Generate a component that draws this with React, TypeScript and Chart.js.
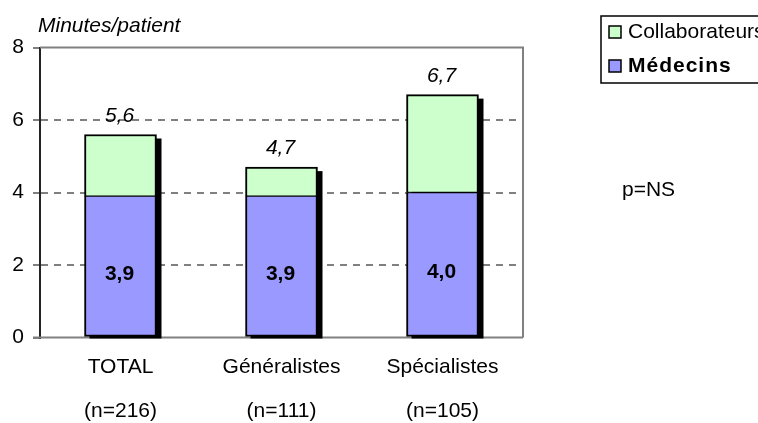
import React, { useEffect, useRef } from "react";
import { Chart, registerables } from "chart.js";

Chart.register(...registerables);

const categories = ["TOTAL", "Généralistes", "Spécialistes"];
const sampleSizes = ["(n=216)", "(n=111)", "(n=105)"];
const medecins = [3.9, 3.9, 4.0];
const collaborateurs = [1.7, 0.8, 2.7];
const totals = [5.6, 4.7, 6.7];
const yTicks = [0, 2, 4, 6, 8];
const axisTitle = "Minutes/patient";
const pValue = "p=NS";
const seriesNames = ["Médecins", "Collaborateurs"];

const FONT = "'Liberation Sans', Arial, sans-serif";
const FS = 21;
const fmt = (v: number) => v.toFixed(1).replace(".", ",");

export default function App() {
  const ref = useRef<HTMLCanvasElement | null>(null);

  useEffect(() => {
    const canvas = ref.current;
    if (!canvas) return;

    const decor = {
      id: "decor",
      beforeDatasetsDraw(chart: any) {
        const { ctx, chartArea } = chart;
        const { left, right, top, bottom } = chartArea;
        ctx.save();
        ctx.strokeStyle = "#808080";
        ctx.lineWidth = 2;
        ctx.beginPath();
        ctx.moveTo(left, top);
        ctx.lineTo(right, top);
        ctx.lineTo(right, bottom);
        ctx.stroke();
        ctx.beginPath();
        ctx.moveTo(left - 7, bottom);
        ctx.lineTo(right, bottom);
        ctx.stroke();
        const m0 = chart.getDatasetMeta(0);
        const m1 = chart.getDatasetMeta(1);
        ctx.fillStyle = "#000";
        m1.data.forEach((bar: any, i: number) => {
          const w = bar.width;
          const x0 = bar.x - w / 2 + 5;
          const y0 = bar.y + 4;
          const base = m0.data[i].base + 2;
          ctx.fillRect(x0, y0, w, base - y0);
        });
        ctx.restore();
      },
      afterDatasetsDraw(chart: any) {
        const { ctx } = chart;
        const m0 = chart.getDatasetMeta(0);
        const m1 = chart.getDatasetMeta(1);
        ctx.save();
        ctx.fillStyle = "#000";
        ctx.textAlign = "center";
        m1.data.forEach((bar: any, i: number) => {
          ctx.font = `italic ${FS}px ${FONT}`;
          ctx.textBaseline = "alphabetic";
          ctx.fillText(fmt(totals[i]), bar.x - 1, bar.y - 13);
          const b = m0.data[i];
          ctx.font = `bold ${FS}px ${FONT}`;
          ctx.textBaseline = "middle";
          ctx.fillText(fmt(medecins[i]), b.x - 1, (b.y + b.base) / 2 + 8);
        });
        ctx.restore();
      },
      afterDraw(chart: any) {
        const { ctx, chartArea } = chart;
        ctx.save();
        ctx.fillStyle = "#000";
        ctx.textAlign = "left";
        ctx.textBaseline = "alphabetic";
        ctx.font = `italic ${FS}px ${FONT}`;
        ctx.fillText(axisTitle, chartArea.left - 2, 32);

        ctx.strokeStyle = "#000";
        ctx.lineWidth = 1.5;
        ctx.strokeRect(601, 16, 180, 67);
        const items = [
          { name: seriesNames[1], color: "#CCFFCC", y: 32, bold: false },
          { name: seriesNames[0], color: "#9999FF", y: 66, bold: true },
        ];
        items.forEach((it) => {
          ctx.fillStyle = it.color;
          ctx.fillRect(609, it.y - 6, 12, 12);
          ctx.lineWidth = 1.5;
          ctx.strokeRect(609, it.y - 6, 12, 12);
          ctx.fillStyle = "#000";
          ctx.textBaseline = "middle";
          ctx.font = `${it.bold ? "bold " : ""}${FS}px ${FONT}`;
          (ctx as any).letterSpacing = it.bold ? "1px" : "0px";
          ctx.fillText(it.name, 628, it.y);
        });
        (ctx as any).letterSpacing = "0px";
        ctx.font = `${FS}px ${FONT}`;
        ctx.textBaseline = "middle";
        ctx.fillText(pValue, 622, 190);
        ctx.restore();
      },
    };

    const chart = new Chart(canvas, {
      type: "bar",
      data: {
        labels: categories.map((c, i) => [c, sampleSizes[i]]),
        datasets: [
          {
            label: seriesNames[0],
            data: medecins,
            backgroundColor: "#9999FF",
            borderColor: "#000",
            borderWidth: { top: 1, left: 2, right: 2, bottom: 2 },
            borderSkipped: false,
            barThickness: 72,
          },
          {
            label: seriesNames[1],
            data: collaborateurs,
            backgroundColor: "#CCFFCC",
            borderColor: "#000",
            borderWidth: { top: 2, left: 2, right: 2, bottom: 1 },
            borderSkipped: false,
            barThickness: 72,
          },
        ],
      },
      options: {
        animation: false,
        responsive: true,
        maintainAspectRatio: false,
        layout: { padding: { top: 47.5, right: 235, left: 0, bottom: 0 } },
        plugins: {
          legend: { display: false },
          tooltip: { enabled: false },
          title: { display: false },
        },
        scales: {
          x: {
            stacked: true,
            grid: { display: false },
            border: { display: false },
            ticks: {
              color: "#000",
              font: { family: FONT, size: FS, lineHeight: 44 / FS },
              padding: 0,
              maxRotation: 0,
              autoSkip: false,
            },
            afterFit(scale: any) {
              scale.height = 423 - 337.5;
            },
          },
          y: {
            stacked: true,
            min: 0,
            max: 8,
            afterBuildTicks(scale: any) {
              scale.ticks = yTicks.map((v) => ({ value: v }));
            },
            ticks: {
              color: "#000",
              font: { family: FONT, size: FS },
              padding: 9,
            },
            grid: {
              color: (c: any) =>
                c.tick && (c.tick.value === 0 || c.tick.value === 8)
                  ? "rgba(0,0,0,0)"
                  : "#808080",
              lineWidth: 2,
              tickLength: 7,
              tickColor: "#555",
              tickWidth: 1.5,
            },
            border: { display: true, color: "#222", width: 2, dash: [7, 6] },
            afterFit(scale: any) {
              scale.width = 40;
            },
          },
        },
      },
      plugins: [decor],
    } as any);

    return () => chart.destroy();
  }, []);

  return (
    <div
      style={{
        position: "absolute",
        left: 0,
        top: 0,
        width: 758,
        height: 423,
        background: "#fff",
      }}
    >
      <canvas ref={ref} />
    </div>
  );
}
